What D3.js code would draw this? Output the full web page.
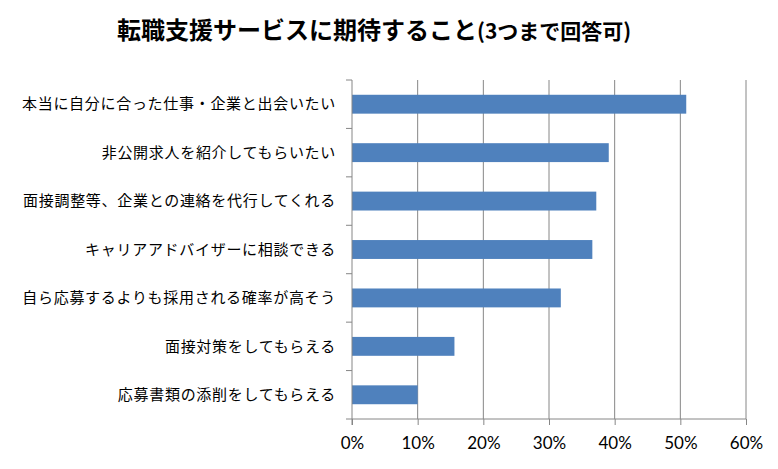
<!DOCTYPE html>
<html>
<head>
<meta charset="utf-8">
<script src="https://cdn.jsdelivr.net/npm/d3@7"></script>
<style>
    body { margin: 0; background: #fff; }
    .label { font-family: "Noto Sans CJK JP", sans-serif; font-size: 15px; letter-spacing: 0.7px; fill: #000; }
    .tick text { font-family: Lato, "Noto Sans", sans-serif; font-size: 17px; fill: #000; }
    .title { font-family: "Noto Sans CJK JP", sans-serif; font-weight: bold; fill: #000; }
</style>
</head>
<body>
<script>
(function () {

    //chart data
    var categories = [
        "本当に自分に合った仕事・企業と出会いたい",
        "非公開求人を紹介してもらいたい",
        "面接調整等、企業との連絡を代行してくれる",
        "キャリアアドバイザーに相談できる",
        "自ら応募するよりも採用される確率が高そう",
        "面接対策をしてもらえる",
        "応募書類の添削をしてもらえる"
    ];
    var values = [0.509, 0.391, 0.372, 0.366, 0.318, 0.156, 0.100];
    var tickValues = [0, 0.1, 0.2, 0.3, 0.4, 0.5, 0.6];
    var titleText = "転職支援サービスに期待すること";
    var titleSub = "(3つまで回答可)";

    var width = 778, height = 469;
    var margin = {top: 80, right: 32, bottom: 50, left: 352};
    var innerW = 746 - margin.left, innerH = 419 - margin.top;

    var svg = d3.select("body")
        .append("svg")
        .attr("width", width)
        .attr("height", height);

    //title (main part + smaller parenthetical)
    var title = svg.append("text")
        .attr("class", "title")
        .attr("x", 117)
        .attr("y", 39);
    title.append("tspan").style("font-size", "24px").text(titleText);
    title.append("tspan").style("font-size", "21px").text(titleSub);

    var g = svg.append("g")
        .attr("transform", "translate(" + margin.left + "," + margin.top + ")");

    var x = d3.scaleLinear().domain([0, 0.6]).range([0, innerW]);
    var y = d3.scaleBand().domain(categories).range([0, innerH]).paddingInner(0.61).paddingOuter(0.305);
    var yTicks = d3.scaleBand().domain(categories).range([0, innerH]);

    //vertical gridlines
    g.selectAll(".grid")
        .data(tickValues.slice(1))
        .enter()
        .append("line")
        .attr("class", "grid")
        .attr("x1", function (d) { return x(d); })
        .attr("x2", function (d) { return x(d); })
        .attr("y1", 0)
        .attr("y2", innerH)
        .attr("stroke", "#868686")
        .attr("stroke-width", 1);

    //bars
    g.selectAll(".bars")
        .data(values)
        .enter()
        .append("rect")
        .attr("class", "bars")
        .attr("x", 0)
        .attr("y", function (d, i) { return y(categories[i]); })
        .attr("width", function (d) { return x(d); })
        .attr("height", y.bandwidth())
        .style("fill", "#4F81BD");

    //x axis
    var xAxis = d3.axisBottom(x)
        .tickValues(tickValues)
        .tickFormat(d3.format(".0%"))
        .tickSize(6)
        .tickPadding(12);
    var xg = g.append("g")
        .attr("transform", "translate(0," + innerH + ")")
        .call(xAxis);
    xg.select(".domain").remove();
    xg.append("line")
        .attr("x1", -6).attr("x2", innerW)
        .attr("stroke", "#868686");
    xg.selectAll(".tick line").attr("stroke", "#868686");

    //y axis: category boundary ticks
    var yg = g.append("g");
    yg.append("line")
        .attr("x1", 0).attr("x2", 0)
        .attr("y1", 0).attr("y2", innerH + 6)
        .attr("stroke", "#868686");
    yg.selectAll(".ytick")
        .data(categories)
        .enter()
        .append("line")
        .attr("class", "ytick")
        .attr("x1", -6).attr("x2", 0)
        .attr("y1", function (d) { return yTicks(d); })
        .attr("y2", function (d) { return yTicks(d); })
        .attr("stroke", "#868686");

    //category labels
    yg.selectAll(".label")
        .data(categories)
        .enter()
        .append("text")
        .attr("class", "label")
        .attr("x", -16)
        .attr("y", function (d) { return yTicks(d) + yTicks.bandwidth() / 2; })
        .attr("dy", "0.35em")
        .attr("text-anchor", "end")
        .text(function (d) { return d; });

})();
</script>
</body>
</html>
